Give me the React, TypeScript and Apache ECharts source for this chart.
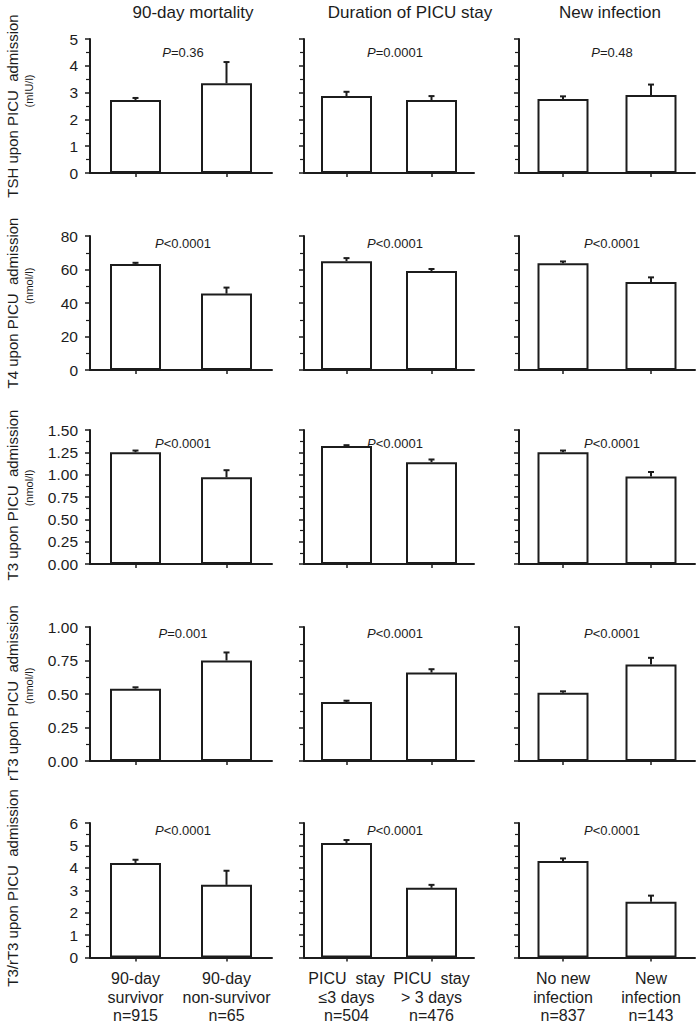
import React, { useEffect, useRef } from "react";
import * as echarts from "echarts";

// ---- data ----
const columnTitles = ["90-day mortality", "Duration of PICU stay", "New infection"];
const groupLabels = [
  ["90-day\nsurvivor\nn=915", "90-day\nnon-survivor\nn=65"],
  ["PICU  stay\n≤3 days\nn=504", "PICU  stay\n> 3 days\nn=476"],
  ["No new\ninfection\nn=837", "New\ninfection\nn=143"],
];
const rowLabels = [
  "TSH upon PICU  admission",
  "T4 upon PICU  admission",
  "T3 upon PICU  admission",
  "rT3 upon PICU  admission",
  "T3/rT3 upon PICU  admission",
];
const rowUnits = ["(mIU/l)", "(nmol/l)", "(nmol/l)", "(nmol/l)", ""];
const yMax = [5, 80, 1.5, 1, 6];
const yInterval = [1, 20, 0.25, 0.25, 1];
const yDecimals = [0, 0, 2, 2, 0];

const tshMean = [[2.72, 3.35], [2.87, 2.72], [2.76, 2.91]];
const tshUpper = [[2.8, 4.14], [3.03, 2.87], [2.86, 3.3]];
const t4Mean = [[63.3, 45.6], [65.0, 59.1], [63.8, 52.5]];
const t4Upper = [[64.0, 49.2], [66.8, 60.3], [64.8, 55.3]];
const t3Mean = [[1.25, 0.97], [1.32, 1.14], [1.25, 0.98]];
const t3Upper = [[1.27, 1.05], [1.33, 1.17], [1.27, 1.03]];
const rt3Mean = [[0.54, 0.75], [0.44, 0.66], [0.51, 0.72]];
const rt3Upper = [[0.55, 0.81], [0.45, 0.685], [0.52, 0.77]];
const ratioMean = [[4.22, 3.24], [5.11, 3.11], [4.31, 2.49]];
const ratioUpper = [[4.36, 3.87], [5.24, 3.24], [4.42, 2.76]];

const means = [tshMean, t4Mean, t3Mean, rt3Mean, ratioMean];
const uppers = [tshUpper, t4Upper, t3Upper, rt3Upper, ratioUpper];

const pValues = [
  ["=0.36", "=0.0001", "=0.48"],
  ["<0.0001", "<0.0001", "<0.0001"],
  ["<0.0001", "<0.0001", "<0.0001"],
  ["=0.001", "<0.0001", "<0.0001"],
  ["<0.0001", "<0.0001", "<0.0001"],
];

// ---- layout ----
const colLeft = [90, 304, 519];
const colWidth = [182, 170, 176];
const rowTop = [39, 236, 430, 627, 823];
const rowHeight = [134, 134, 134, 134, 135];
const colTitleX = [193, 410, 610];
const pTextX = [183, 395, 612];
const pTextY = [52, 243, 443, 633, 830];
const rowLabelY = [106, 303, 495, 693, 888];
const unitY = [91, 286, 488, 686, 0];

const INK = "#1c1c1c";
const FONT = "Liberation Sans, Arial, sans-serif";

export default function App() {
  const ref = useRef<HTMLDivElement>(null);
  useEffect(() => {
    if (!ref.current) return;
    const chart = echarts.init(ref.current, null, { renderer: "svg" });
    const grid: any[] = [];
    const xAxis: any[] = [];
    const yAxis: any[] = [];
    const series: any[] = [];
    const graphic: any[] = [];
    let idx = 0;
    for (let r = 0; r < 5; r++) {
      for (let c = 0; c < 3; c++) {
        grid.push({ left: colLeft[c], top: rowTop[r], width: colWidth[c], height: rowHeight[r] });
        xAxis.push({
          type: "category",
          gridIndex: idx,
          data: groupLabels[c],
          axisLine: { lineStyle: { color: INK, width: 2 } },
          axisTick: { show: true, alignWithLabel: true, length: 4, lineStyle: { color: INK, width: 1.5 } },
          axisLabel: {
            show: r === 4,
            color: INK,
            fontSize: 16,
            fontFamily: FONT,
            lineHeight: 18.5,
            margin: 12,
            interval: 0,
          },
        });
        yAxis.push({
          type: "value",
          gridIndex: idx,
          min: 0,
          max: yMax[r],
          interval: yInterval[r],
          axisLine: { show: true, lineStyle: { color: INK, width: 2 } },
          axisTick: { show: true, length: 5, lineStyle: { color: INK, width: 1.5 } },
          minorTick: { show: true, splitNumber: 2, length: 4, lineStyle: { color: INK, width: 1.2 } },
          splitLine: { show: false },
          axisLabel: {
            show: c === 0,
            color: INK,
            fontSize: 15.5,
            fontFamily: FONT,
            margin: 12,
            formatter: (v: number) => v.toFixed(yDecimals[r]),
          },
        });
        series.push({
          type: "bar",
          xAxisIndex: idx,
          yAxisIndex: idx,
          barWidth: 51,
          data: means[r][c],
          itemStyle: { color: "#ffffff", borderColor: INK, borderWidth: 2 },
          silent: true,
        });
        series.push({
          type: "custom",
          xAxisIndex: idx,
          yAxisIndex: idx,
          data: means[r][c].map((m, i) => [i, m, uppers[r][c][i]]),
          renderItem: (params: any, api: any) => {
            const base = api.coord([api.value(0), api.value(1)]);
            const top = api.coord([api.value(0), api.value(2)]);
            const st = { stroke: INK, lineWidth: 2 };
            return {
              type: "group",
              children: [
                { type: "line", shape: { x1: base[0], y1: base[1], x2: top[0], y2: top[1] }, style: st },
                { type: "line", shape: { x1: top[0] - 3, y1: top[1], x2: top[0] + 3, y2: top[1] }, style: st },
              ],
            };
          },
          silent: true,
        });
        graphic.push({
          type: "text",
          x: pTextX[c],
          y: pTextY[r],
          style: {
            text: "{i|P}{n|" + pValues[r][c] + "}",
            textAlign: "center",
            textVerticalAlign: "middle",
            rich: {
              i: { fontStyle: "italic", fontSize: 13, fontFamily: FONT, fill: INK },
              n: { fontSize: 13, fontFamily: FONT, fill: INK },
            },
          },
        });
        idx++;
      }
      graphic.push({
        type: "text",
        x: 12,
        y: rowLabelY[r],
        rotation: Math.PI / 2,
        style: {
          text: rowLabels[r],
          font: "15px " + FONT,
          fill: INK,
          textAlign: "center",
          textVerticalAlign: "middle",
        },
      });
      if (rowUnits[r]) {
        graphic.push({
          type: "text",
          x: 29,
          y: unitY[r],
          rotation: Math.PI / 2,
          style: {
            text: rowUnits[r],
            font: "11px " + FONT,
            fill: INK,
            textAlign: "center",
            textVerticalAlign: "middle",
          },
        });
      }
    }
    for (let c = 0; c < 3; c++) {
      graphic.push({
        type: "text",
        x: colTitleX[c],
        y: 12,
        style: {
          text: columnTitles[c],
          font: "17px " + FONT,
          fill: INK,
          textAlign: "center",
          textVerticalAlign: "middle",
        },
      });
    }
    chart.setOption({
      animation: false,
      backgroundColor: "#ffffff",
      grid,
      xAxis,
      yAxis,
      series,
      graphic,
    });
    return () => chart.dispose();
  }, []);
  return (
    <div
      ref={ref}
      style={{ position: "absolute", left: 0, top: 0, width: 700, height: 1025, background: "#fff" }}
    />
  );
}
